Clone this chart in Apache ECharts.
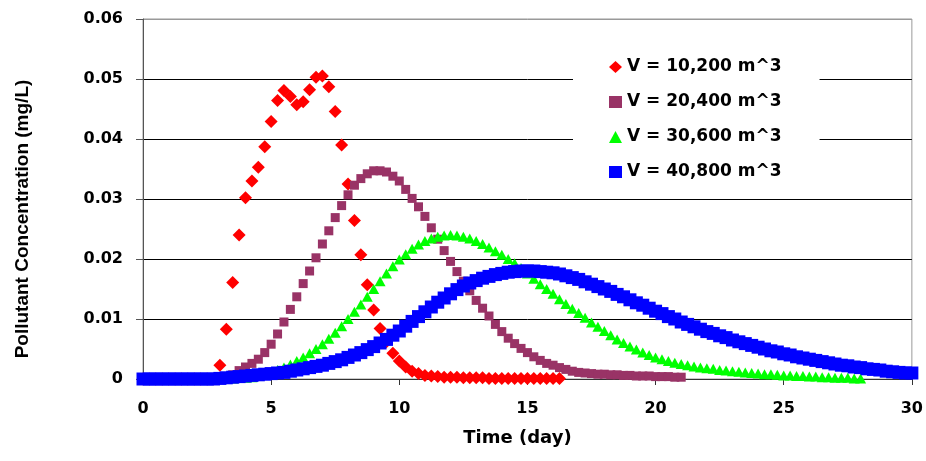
<!DOCTYPE html>
<html>
<head>
<meta charset="utf-8">
<script src="https://cdn.jsdelivr.net/npm/echarts@6/dist/echarts.min.js"></script>
<style>
  html, body { margin: 0; padding: 0; background: #fff; }
  #chart { width: 926px; height: 461px; }
</style>
</head>
<body>
<div id="chart"></div>
<script>
// time (day), one reading every 0.25 day
const timeDays = [
  0, 0.25, 0.5, 0.75, 1, 1.25, 1.5, 1.75, 2, 2.25, 2.5, 2.75,
  3, 3.25, 3.5, 3.75, 4, 4.25, 4.5, 4.75, 5, 5.25, 5.5, 5.75,
  6, 6.25, 6.5, 6.75, 7, 7.25, 7.5, 7.75, 8, 8.25, 8.5, 8.75,
  9, 9.25, 9.5, 9.75, 10, 10.25, 10.5, 10.75, 11, 11.25, 11.5, 11.75,
  12, 12.25, 12.5, 12.75, 13, 13.25, 13.5, 13.75, 14, 14.25, 14.5, 14.75,
  15, 15.25, 15.5, 15.75, 16, 16.25, 16.5, 16.75, 17, 17.25, 17.5, 17.75,
  18, 18.25, 18.5, 18.75, 19, 19.25, 19.5, 19.75, 20, 20.25, 20.5, 20.75,
  21, 21.25, 21.5, 21.75, 22, 22.25, 22.5, 22.75, 23, 23.25, 23.5, 23.75,
  24, 24.25, 24.5, 24.75, 25, 25.25, 25.5, 25.75, 26, 26.25, 26.5, 26.75,
  27, 27.25, 27.5, 27.75, 28, 28.25, 28.5, 28.75, 29, 29.25, 29.5, 29.75,
  30
];

const seriesNames = ['V = 10,200 m^3', 'V = 20,400 m^3', 'V = 30,600 m^3', 'V = 40,800 m^3'];

// V = 10,200 m^3  (0 .. 16.25 day)
const conc10200 = [
  0, 0, 0, 0, 0, 0, 0, 0, 0, 0, 0, 0,
  0.0023, 0.0083, 0.0161, 0.0240, 0.0302, 0.0330, 0.0353, 0.0387, 0.0429, 0.0464, 0.0481, 0.0471,
  0.0457, 0.0462, 0.0482, 0.0503, 0.0505, 0.0487, 0.0446, 0.0390, 0.0325, 0.0264, 0.0207, 0.0157,
  0.0115, 0.0084, 0.0062, 0.0043, 0.0030, 0.0020, 0.0013, 0.0009, 0.0006, 0.0005, 0.0004, 0.0003,
  0.0003, 0.0003, 0.0002, 0.0002, 0.0002, 0.0002, 0.0001, 0.0001, 0.0001, 0.0001, 0.0001, 0.0001,
  0.0001, 0.0001, 0.0001, 0.0001, 0.0001, 0.0001
];

// V = 20,400 m^3  (0 .. 21 day)
const conc20400 = [
  0, 0, 0, 0, 0, 0, 0, 0, 0, 0, 0, 0,
  0.0002, 0.0004, 0.0007, 0.0014, 0.0020, 0.0026, 0.0033, 0.0044, 0.0058, 0.0075, 0.0095, 0.0116,
  0.0137, 0.0159, 0.0180, 0.0202, 0.0225, 0.0247, 0.0269, 0.0289, 0.0307, 0.0323, 0.0334, 0.0342,
  0.0347, 0.0347, 0.0345, 0.0338, 0.0330, 0.0316, 0.0301, 0.0287, 0.0271, 0.0252, 0.0233, 0.0214,
  0.0196, 0.0179, 0.0163, 0.0147, 0.0131, 0.0118, 0.0105, 0.0091, 0.0079, 0.0068, 0.0059, 0.0051,
  0.0044, 0.0037, 0.0031, 0.0026, 0.0023, 0.0019, 0.0016, 0.0013, 0.0011, 0.0010, 0.0009, 0.0008,
  0.0008, 0.0007, 0.0007, 0.0006, 0.0006, 0.0005, 0.0005, 0.0005, 0.0004, 0.0004, 0.0004, 0.0003,
  0.0003
];

// V = 30,600 m^3  (0 .. 28 day)
const conc30600 = [
  0, 0, 0, 0, 0, 0, 0, 0, 0, 0, 0, 0,
  0, 0.0001, 0.0001, 0.0002, 0.0002, 0.0003, 0.0005, 0.0008, 0.0011, 0.0015, 0.0019, 0.0024,
  0.0030, 0.0036, 0.0043, 0.0050, 0.0058, 0.0067, 0.0077, 0.0088, 0.0100, 0.0112, 0.0124, 0.0137,
  0.0150, 0.0163, 0.0176, 0.0188, 0.0199, 0.0208, 0.0217, 0.0224, 0.0230, 0.0234, 0.0237, 0.0239,
  0.0240, 0.0239, 0.0237, 0.0234, 0.0230, 0.0225, 0.0219, 0.0213, 0.0207, 0.0200, 0.0193, 0.0185,
  0.0176, 0.0167, 0.0158, 0.0150, 0.0142, 0.0133, 0.0125, 0.0117, 0.0110, 0.0102, 0.0094, 0.0087,
  0.0080, 0.0073, 0.0066, 0.0060, 0.0054, 0.0049, 0.0044, 0.0040, 0.0036, 0.0033, 0.0030, 0.0027,
  0.0025, 0.0023, 0.0021, 0.0019, 0.0018, 0.0017, 0.0015, 0.0014, 0.0013, 0.0012, 0.0011, 0.0010,
  0.0009, 0.0008, 0.0008, 0.0007, 0.0006, 0.0006, 0.0005, 0.0005, 0.0004, 0.0004, 0.0003, 0.0003,
  0.0002, 0.0002, 0.0002, 0.0001, 0.0001
];

// V = 40,800 m^3  (0 .. 30 day)
const conc40800 = [
  0, 0, 0, 0, 0, 0, 0, 0, 0, 0, 0, 0,
  0.0001, 0.0002, 0.0003, 0.0004, 0.0005, 0.0006, 0.0007, 0.0008, 0.0009, 0.0010, 0.0011, 0.0013,
  0.0015, 0.0017, 0.0019, 0.0021, 0.0023, 0.0026, 0.0029, 0.0032, 0.0036, 0.0040, 0.0044, 0.0049,
  0.0054, 0.0060, 0.0066, 0.0073, 0.0080, 0.0088, 0.0096, 0.0104, 0.0112, 0.0120, 0.0128, 0.0135,
  0.0142, 0.0149, 0.0155, 0.0160, 0.0164, 0.0168, 0.0171, 0.0174, 0.0176, 0.0178, 0.0179, 0.0180,
  0.0180, 0.0180, 0.0179, 0.0178, 0.0177, 0.0175, 0.0172, 0.0169, 0.0166, 0.0162, 0.0158, 0.0154,
  0.0150, 0.0146, 0.0141, 0.0137, 0.0132, 0.0127, 0.0123, 0.0118, 0.0113, 0.0109, 0.0104, 0.0100,
  0.0095, 0.0091, 0.0087, 0.0083, 0.0079, 0.0076, 0.0072, 0.0069, 0.0065, 0.0062, 0.0059, 0.0056,
  0.0053, 0.0050, 0.0047, 0.0045, 0.0042, 0.0040, 0.0037, 0.0035, 0.0033, 0.0031, 0.0029, 0.0027,
  0.0025, 0.0023, 0.0022, 0.0020, 0.0019, 0.0017, 0.0016, 0.0015, 0.0013, 0.0012, 0.0011, 0.0010,
  0.0010
];

const pairs = (vals) => vals.map((v, i) => [timeDays[i], v]);

const chart = echarts.init(document.getElementById('chart'));
const tickFont = { fontFamily: 'DejaVu Sans', fontWeight: 'bold', fontSize: 16, color: '#000' };

chart.setOption({
  animation: false,
  backgroundColor: '#fff',
  grid: {
    left: 143, right: 12, top: 19, bottom: 82,
    show: true, borderColor: '#999', borderWidth: 1, backgroundColor: 'transparent'
  },
  legend: {
    orient: 'vertical',
    left: 573,
    top: 45,
    padding: [12, 38, 10, 36],
    backgroundColor: '#fff',
    itemWidth: 13,
    itemHeight: 12,
    itemGap: 15,
    textStyle: { fontFamily: 'DejaVu Sans', fontWeight: 'bold', fontSize: 17, color: '#000', lineHeight: 20 },
    data: [
      { name: seriesNames[0], icon: 'diamond' },
      { name: seriesNames[1], icon: 'rect' },
      { name: seriesNames[2], icon: 'triangle' },
      { name: seriesNames[3], icon: 'rect' }
    ]
  },
  xAxis: {
    type: 'value',
    min: 0, max: 30, interval: 5,
    name: 'Time (day)',
    nameLocation: 'middle',
    nameGap: 50,
    nameTextStyle: { fontFamily: 'DejaVu Sans', fontWeight: 'bold', fontSize: 18, color: '#000', padding: [0, 20, 0, 0] },
    axisLine: { onZero: false, lineStyle: { color: '#333', width: 1 } },
    axisTick: { show: true, length: 6, lineStyle: { color: '#333' } },
    axisLabel: Object.assign({ margin: 22 }, tickFont),
    splitLine: { show: false }
  },
  yAxis: {
    type: 'value',
    min: 0, max: 0.06, interval: 0.01,
    name: 'Pollutant Concentration (mg/L)',
    nameLocation: 'middle',
    nameGap: 111,
    nameTextStyle: { fontFamily: 'Liberation Sans', fontWeight: 'bold', fontSize: 19, color: '#000', padding: [0, 40, 0, 0] },
    axisLine: { show: true, lineStyle: { color: '#555', width: 1 } },
    axisTick: { show: true, length: 7, lineStyle: { color: '#555' } },
    axisLabel: Object.assign({ margin: 20 }, tickFont),
    splitLine: {
      show: true,
      lineStyle: { color: ['#000', '#000', '#000', '#000', '#000', '#000', '#999'], width: 1 }
    }
  },
  series: [
    {
      name: seriesNames[0], type: 'scatter', symbol: 'diamond', symbolSize: 13,
      itemStyle: { color: '#ff0000', opacity: 1 },
      data: pairs(conc10200)
    },
    {
      name: seriesNames[1], type: 'scatter', symbol: 'rect', symbolSize: 9,
      itemStyle: { color: '#993366', opacity: 1 },
      data: pairs(conc20400)
    },
    {
      name: seriesNames[2], type: 'scatter', symbol: 'triangle', symbolSize: [11, 10],
      itemStyle: { color: '#00ff00', opacity: 1 },
      data: pairs(conc30600)
    },
    {
      name: seriesNames[3], type: 'scatter', symbol: 'rect', symbolSize: 13,
      itemStyle: { color: '#0000ff', opacity: 1 },
      data: pairs(conc40800)
    }
  ]
});
</script>
</body>
</html>
